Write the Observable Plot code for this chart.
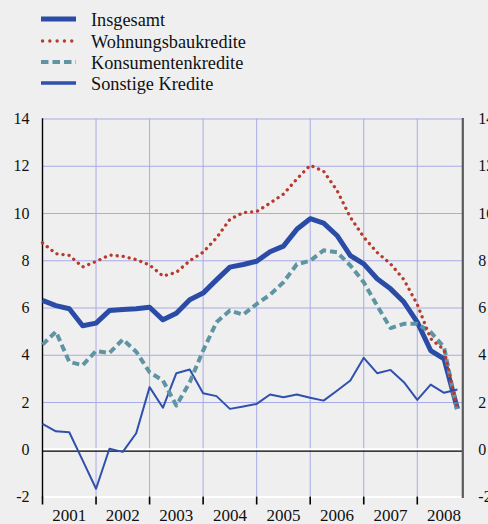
<!DOCTYPE html>
<html>
<head>
<meta charset="utf-8">
<script src="https://cdn.jsdelivr.net/npm/d3@7"></script>
<script src="https://cdn.jsdelivr.net/npm/@observablehq/plot@0.6"></script>
<style>
  html, body { margin: 0; padding: 0; background: #efefef; }
  body { width: 488px; height: 524px; overflow: hidden; font-family: "Liberation Serif", "Times New Roman", Times, serif; }
  #legend { display: block; }
  #chart svg { display: block; }
  svg text { font-family: "Liberation Serif", "Times New Roman", Times, serif !important; }
</style>
</head>
<body>
<svg id="legend" width="488" height="105"></svg>
<div id="chart"></div>
<script>
// ---- data ----
const quarters = [
  "2001Q1","2001Q2","2001Q3","2001Q4","2002Q1","2002Q2","2002Q3","2002Q4",
  "2003Q1","2003Q2","2003Q3","2003Q4","2004Q1","2004Q2","2004Q3","2004Q4",
  "2005Q1","2005Q2","2005Q3","2005Q4","2006Q1","2006Q2","2006Q3","2006Q4",
  "2007Q1","2007Q2","2007Q3","2007Q4","2008Q1","2008Q2","2008Q3","2008Q4"
];
const insgesamt = [6.32, 6.10, 5.97, 5.25, 5.36, 5.89, 5.94, 5.97, 6.03, 5.50, 5.78, 6.35, 6.63, 7.19, 7.73, 7.84,
                   7.98, 8.38, 8.62, 9.33, 9.78, 9.59, 9.07, 8.22, 7.87, 7.24, 6.81, 6.25, 5.40, 4.20, 3.85, 1.73];
const wohnungsbau = [8.76, 8.30, 8.23, 7.74, 7.97, 8.24, 8.19, 8.05, 7.82, 7.35, 7.51, 8.00, 8.36, 8.97, 9.75, 10.04,
                     10.08, 10.44, 10.82, 11.46, 12.04, 11.79, 10.98, 9.84, 9.00, 8.35, 7.87, 7.20, 6.15, 4.70, 4.23, 1.70];
const konsumenten = [4.45, 5.00, 3.72, 3.58, 4.18, 4.10, 4.67, 4.15, 3.28, 2.93, 1.87, 2.86, 4.20, 5.40, 5.89, 5.72,
                     6.17, 6.56, 7.09, 7.85, 8.00, 8.44, 8.36, 7.80, 7.09, 6.10, 5.15, 5.33, 5.33, 4.98, 4.34, 1.59];
const sonstige = [1.10, 0.78, 0.74, -0.45, -1.65, 0.04, -0.09, 0.70, 2.65, 1.78, 3.24, 3.40, 2.39, 2.27, 1.73, 1.83,
                  1.94, 2.34, 2.22, 2.34, 2.20, 2.08, 2.50, 2.93, 3.89, 3.24, 3.38, 2.86, 2.11, 2.76, 2.41, 2.55];
const seriesNames = ["Insgesamt", "Wohnungsbaukredite", "Konsumentenkredite", "Sonstige Kredite"];
const yearLabels = ["2001","2002","2003","2004","2005","2006","2007","2008"];
const yTicks = [-2, 0, 2, 4, 6, 8, 10, 12, 14];

// ---- styles ----
const serif = '"Liberation Serif", "Times New Roman", Times, serif';
const styles = {
  "Insgesamt":          {stroke: "#2b4ca6", strokeWidth: 5,   dash: null,     cap: "butt"},
  "Wohnungsbaukredite": {stroke: "#b73b2c", strokeWidth: 3.3, dash: "0.1 6",  cap: "round"},
  "Konsumentenkredite": {stroke: "#5f94a2", strokeWidth: 4,   dash: "7 4",    cap: "butt"},
  "Sonstige Kredite":   {stroke: "#2f50ad", strokeWidth: 2,   dash: null,     cap: "butt"}
};
const legendWidths = {"Insgesamt": 5, "Wohnungsbaukredite": 3.3, "Konsumentenkredite": 4, "Sonstige Kredite": 3.4};

const toT = q => +q.slice(0, 4) + (+q.slice(5) - 1) / 4;
const valuesBy = {
  "Insgesamt": insgesamt,
  "Wohnungsbaukredite": wohnungsbau,
  "Konsumentenkredite": konsumenten,
  "Sonstige Kredite": sonstige
};
const rows = seriesNames.flatMap(s => quarters.map((q, i) => ({series: s, t: toT(q), v: valuesBy[s][i]})));

// ---- legend ----
const leg = d3.select("#legend");
const rowY = [19, 41, 62, 83];
seriesNames.forEach((s, i) => {
  const st = styles[s];
  leg.append("line")
    .attr("x1", 41).attr("x2", 76).attr("y1", rowY[i]).attr("y2", rowY[i])
    .attr("stroke", st.stroke).attr("stroke-width", legendWidths[s])
    .attr("stroke-dasharray", s === "Wohnungsbaukredite" ? "0.1 7.2" : (st.dash ? "7.5 4" : null))
    .attr("stroke-linecap", st.cap)
    .attr("transform", s === "Wohnungsbaukredite" ? "translate(1.5,0)" : null);
  leg.append("text")
    .attr("x", 91).attr("y", rowY[i] + 1.3)
    .attr("dominant-baseline", "central")
    .style("font-family", serif)
    .attr("font-size", 18.3)
    .attr("fill", "#111")
    .text(s);
});

// ---- chart ----
const grid = "#a9abe6";
const boundaries = yearLabels.map(y => +y);
const gridYears = boundaries.slice(1);
const gridY = yTicks.filter(d => d > 0);

const lineMarks = ["Sonstige Kredite", "Insgesamt", "Konsumentenkredite", "Wohnungsbaukredite"].map(s => {
  const st = styles[s];
  return Plot.line(rows.filter(r => r.series === s), {
    x: "t", y: "v",
    stroke: st.stroke, strokeWidth: st.strokeWidth,
    strokeDasharray: st.dash, strokeLinecap: st.cap, strokeLinejoin: "round"
  });
});

const chart = Plot.plot({
  width: 488,
  height: 419,
  marginTop: 13.5,
  marginBottom: 27.5,
  marginLeft: 42,
  marginRight: 25.7,
  x: {domain: [2001, 2008.85], axis: null},
  y: {domain: [-2, 14]},
  style: {background: "transparent", fontFamily: serif, fontSize: "16px", color: "#111", overflow: "visible"},
  marks: [
    Plot.ruleY(gridY, {stroke: grid, strokeWidth: 1, strokeOpacity: 1}),
    Plot.ruleX(gridYears, {stroke: grid, strokeWidth: 1, strokeOpacity: 1}),
    Plot.ruleY([0], {stroke: "white", strokeWidth: 2, dy: -0.6}),
    Plot.ruleY([0], {stroke: "black", strokeWidth: 1.2, dy: 1.4}),
    Plot.frame({anchor: "bottom", stroke: "white", strokeWidth: 2}),
    Plot.frame({anchor: "left", stroke: "black", strokeWidth: 1.4}),
    Plot.frame({anchor: "right", stroke: "#5a5a5a", strokeWidth: 2.2}),
    Plot.axisX({ticks: boundaries, tickSize: 8, tickFormat: () => "", label: null, stroke: "black", strokeWidth: 1.6}),
    Plot.axisX({ticks: boundaries.map(b => b + 0.5), tickSize: 0, tickPadding: 11.5, label: null, tickFormat: d => String(Math.floor(d)), fontSize: 17}),
    Plot.axisY({ticks: yTicks, tickSize: 0, tickPadding: 13, label: null, tickFormat: d => String(d), fontSize: 16}),
    Plot.axisY({anchor: "right", ticks: yTicks, tickSize: 0, tickPadding: 15.5, label: null, tickFormat: d => String(d), fontSize: 16}),
    ...lineMarks
  ]
});
document.getElementById("chart").appendChild(chart);
</script>
</body>
</html>
